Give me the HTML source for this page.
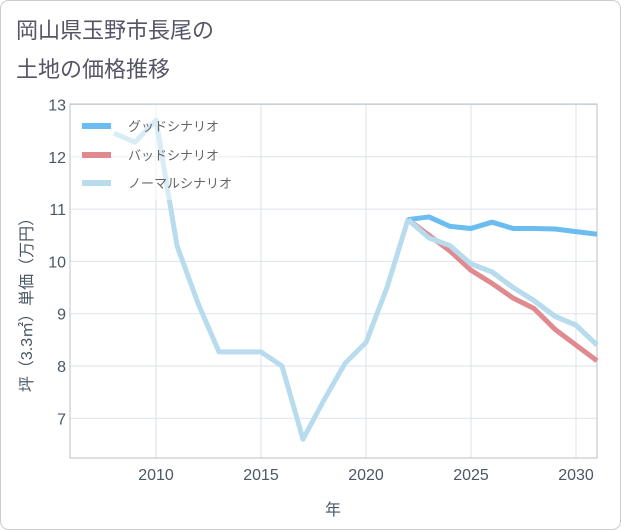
<!DOCTYPE html>
<html><head><meta charset="utf-8">
<style>
body{margin:0;background:#fff;}
svg{display:block;font-family:"Liberation Sans","Noto Sans CJK JP",sans-serif;}
</style></head>
<body>
<svg id="c" width="621" height="530" viewBox="0 0 621 530">
<rect x="0.5" y="0.5" width="620" height="529" rx="8" fill="#fff" stroke="#ccc"/>
<text x="16" y="38" font-size="22" fill="#556">岡山県玉野市長尾の</text>
<text x="16" y="77" font-size="22" fill="#556">土地の価格推移</text>
<g id="grid"></g>
<g id="axes"></g>
<g id="series"></g>
<g id="legend"></g>
<text x="333" y="515" font-size="16" fill="#4a5866" text-anchor="middle">年</text>
<text transform="translate(32,301) rotate(-90)" font-size="16" fill="#4a5866" text-anchor="middle">坪（3.3㎡）単価（万円）</text>
</svg>
<script>
const goodYears=[2022,2023,2024,2025,2026,2027,2028,2029,2030,2031];
const goodVals=[10.8,10.85,10.67,10.63,10.75,10.63,10.63,10.62,10.57,10.52];
const badYears=[2022,2023,2024,2025,2026,2027,2028,2029,2030,2031];
const badVals=[10.8,10.5,10.2,9.83,9.58,9.3,9.1,8.7,8.4,8.1];
const normYears=[2008,2009,2010,2011,2012,2013,2014,2015,2016,2017,2018,2019,2020,2021,2022,2023,2024,2025,2026,2027,2028,2029,2030,2031];
const normVals=[12.45,12.28,12.7,10.3,9.2,8.27,8.27,8.27,8.0,6.6,7.35,8.05,8.45,9.5,10.8,10.45,10.3,9.95,9.8,9.5,9.25,8.95,8.78,8.4];
const yTicks=[7,8,9,10,11,12,13];
const xTicks=[2010,2015,2020,2025,2030];
const L=70,R=597,T=104,B=458;
const X=y=>156+(y-2010)*21;
const Y=v=>104.5+(13-v)*52.3;
const ns="http://www.w3.org/2000/svg";
function mk(tag,parent,attrs){const e=document.createElementNS(ns,tag);for(const k in attrs)e.setAttribute(k,attrs[k]);document.getElementById(parent).appendChild(e);return e;}
yTicks.forEach(t=>{
 const l=mk('line','grid',{x1:L,x2:R,y1:Y(t),y2:Y(t),stroke:'#dde3ea'});
 
 
 const tx=mk('text','axes',{x:L-4,y:Y(t)+6,'font-size':16,fill:'#4a5866','text-anchor':'end'});
 tx.textContent=t;
 
 
});
xTicks.forEach(t=>{
 const l=mk('line','grid',{x1:X(t),x2:X(t),y1:T,y2:B,stroke:'#dde3ea'});
 
 
 const tx=mk('text','axes',{x:X(t),y:B+22,'font-size':16,fill:'#4a5866','text-anchor':'middle'});
 tx.textContent=t;
 
 
});
const fr=mk('rect','axes',{x:L,y:T,width:R-L,height:B-T,fill:'none',stroke:'#b9c0c8'});


function line(xs,vs,color,name){
 const p=mk('polyline','series',{points:xs.map((x,i)=>X(x)+','+Y(vs[i])).join(' '),fill:'none',stroke:color,'stroke-width':5,'stroke-linejoin':'round'});
 
 
}
line(normYears,normVals,'#b8dcee','normal-scenario-line');
line(badYears,badVals,'#e08a8f','bad-scenario-line');
line(goodYears,goodVals,'#6bbcf0','good-scenario-line');
line(normYears.slice(14),normVals.slice(14),'#b8dcee','normal-scenario-line-forecast');
const bg=mk('rect','legend',{x:71,y:105,width:170,height:95,fill:'#fff','fill-opacity':0.45});


[['グッドシナリオ','#6bbcf0',126],['バッドシナリオ','#e08a8f',155],['ノーマルシナリオ','#b8dcee',183]].forEach(([n,c,y])=>{
 const s=mk('line','legend',{x1:82,x2:111,y1:y,y2:y,stroke:c,'stroke-width':6});
 
 
 const t=mk('text','legend',{x:128,y:y+5,'font-size':13,fill:'#666'});
 t.textContent=n;
 
 
});
</script>
</body></html>
